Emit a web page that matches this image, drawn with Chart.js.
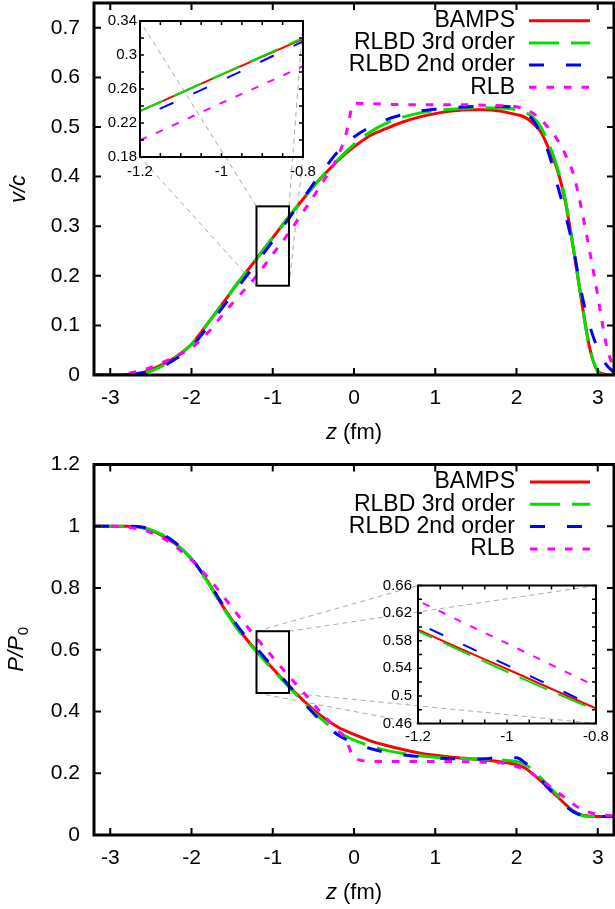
<!DOCTYPE html>
<html>
<head>
<meta charset="utf-8">
<script src="https://cdn.jsdelivr.net/npm/chart.js@4.4.1/dist/chart.umd.min.js"></script>
<style>
body { margin: 0; background: #fff; }
#wrap { position: relative; width: 615px; height: 909px; background: #fff; }
canvas { position: absolute; }
</style>
</head>
<body>
<div id="wrap">
  <canvas id="vMain" width="615" height="455" style="left:0;top:0"></canvas>
  <canvas id="vZoom" width="230" height="180" style="left:95px;top:8px"></canvas>
  <canvas id="pMain" width="615" height="454" style="left:0;top:455px"></canvas>
  <canvas id="pZoom" width="247" height="180" style="left:368px;top:572px"></canvas>
</div>
<script>
// z grid (fm) shared by all curves
const z = [-3.2, -3.0, -2.8, -2.6, -2.4, -2.2, -2.0, -1.8, -1.6, -1.4, -1.2, -1.0, -0.8, -0.6, -0.4, -0.2, -0.1, 0,
  0.2, 0.4, 0.6, 0.8, 1.0, 1.2, 1.4, 1.6, 1.8, 2.0, 2.1, 2.2, 2.3, 2.4, 2.5, 2.6, 2.7, 2.8, 2.9, 3.0, 3.1, 3.2];

const seriesNames = ['BAMPS', 'RLBD 3rd order', 'RLBD 2nd order', 'RLB'];

// v/c
const vBamps = [0, 0, 0.001, 0.005, 0.018, 0.036, 0.062, 0.104, 0.148, 0.192, 0.234, 0.277, 0.319, 0.36, 0.398, 0.432, 0.447, 0.46,
  0.483, 0.497, 0.51, 0.52, 0.527, 0.532, 0.535, 0.535, 0.532, 0.525, 0.52, 0.508, 0.49, 0.455, 0.415, 0.35, 0.255, 0.15, 0.055, 0.008, 0.001, 0];
const vRlbd3 = [0, 0, 0, 0.003, 0.015, 0.035, 0.062, 0.104, 0.148, 0.192, 0.234, 0.277, 0.32, 0.36, 0.399, 0.434, 0.45, 0.465,
  0.49, 0.508, 0.52, 0.528, 0.533, 0.536, 0.538, 0.539, 0.538, 0.535, 0.53, 0.52, 0.5, 0.465, 0.42, 0.355, 0.255, 0.15, 0.055, 0.008, 0, 0];
const vRlbd2 = [0, 0, 0.001, 0.004, 0.013, 0.032, 0.057, 0.097, 0.14, 0.183, 0.226, 0.27, 0.316, 0.362, 0.408, 0.45, 0.466, 0.48,
  0.5, 0.515, 0.525, 0.532, 0.536, 0.539, 0.541, 0.542, 0.542, 0.538, 0.528, 0.515, 0.485, 0.445, 0.385, 0.325, 0.255, 0.165, 0.1, 0.053, 0.022, 0.005];
const vRlb = [0, 0, 0.003, 0.01, 0.022, 0.037, 0.055, 0.085, 0.125, 0.162, 0.2, 0.2435, 0.287, 0.335, 0.385, 0.44, 0.485, 0.548,
  0.547, 0.546, 0.545, 0.545, 0.545, 0.545, 0.545, 0.544, 0.543, 0.541, 0.537, 0.528, 0.515, 0.497, 0.475, 0.445, 0.405, 0.335, 0.25, 0.16, 0.065, 0.01];

// P/P0
const pBamps = [1, 1, 1, 0.995, 0.975, 0.943, 0.895, 0.822, 0.735, 0.66, 0.596, 0.539, 0.482, 0.43, 0.385, 0.35, 0.337, 0.326,
  0.305, 0.29, 0.277, 0.266, 0.258, 0.252, 0.248, 0.243, 0.237, 0.228, 0.218, 0.198, 0.175, 0.15, 0.125, 0.1, 0.078, 0.065, 0.061, 0.06, 0.06, 0.06];
const pRlbd3 = [1, 1, 1, 0.996, 0.978, 0.945, 0.893, 0.818, 0.732, 0.655, 0.594, 0.535, 0.479, 0.425, 0.375, 0.335, 0.32, 0.307,
  0.289, 0.274, 0.264, 0.257, 0.252, 0.249, 0.247, 0.245, 0.243, 0.238, 0.23, 0.21, 0.185, 0.158, 0.13, 0.1, 0.076, 0.064, 0.06, 0.06, 0.06, 0.06];
const pRlbd2 = [1, 1, 1, 0.997, 0.98, 0.947, 0.895, 0.822, 0.74, 0.665, 0.605, 0.5445, 0.484, 0.423, 0.368, 0.325, 0.31, 0.298,
  0.28, 0.267, 0.259, 0.254, 0.25, 0.247, 0.246, 0.247, 0.251, 0.25, 0.235, 0.21, 0.18, 0.15, 0.12, 0.095, 0.075, 0.064, 0.061, 0.06, 0.06, 0.06];
const pRlb = [1, 1, 0.997, 0.988, 0.968, 0.935, 0.89, 0.835, 0.77, 0.703, 0.638, 0.576, 0.514, 0.455, 0.395, 0.34, 0.31, 0.25,
  0.239, 0.238, 0.238, 0.238, 0.238, 0.238, 0.237, 0.236, 0.234, 0.222, 0.212, 0.197, 0.178, 0.16, 0.14, 0.12, 0.1, 0.083, 0.073, 0.067, 0.064, 0.062];

// ticks
const zTicks = [-3, -2, -1, 0, 1, 2, 3];
const vTicks = [0, 0.1, 0.2, 0.3, 0.4, 0.5, 0.6, 0.7];
const pTicks = [0, 0.2, 0.4, 0.6, 0.8, 1, 1.2];
const zoomZTicks = [-1.2, -1.15, -1.1, -1.05, -1, -0.95, -0.9, -0.85, -0.8];
const zoomZLabels = [-1.2, -1, -0.8];
const vZoomTicks = [0.18, 0.2, 0.22, 0.24, 0.26, 0.28, 0.3, 0.32, 0.34];
const vZoomLabels = [0.18, 0.22, 0.26, 0.3, 0.34];
const pZoomTicks = [0.46, 0.48, 0.5, 0.52, 0.54, 0.56, 0.58, 0.6, 0.62, 0.64, 0.66];
const pZoomLabels = [0.46, 0.5, 0.54, 0.58, 0.62, 0.66];

const colors = ['#ff0000', '#00e000', '#0000ff', '#ff00ff'];
const dashes = [[], [30, 12], [15, 22], [7.5, 10]];
const FONT = '"Liberation Sans", Arial, Helvetica, sans-serif';

Chart.defaults.font.family = FONT;
Chart.defaults.color = '#000';

function makeDatasets(series, width) {
  return series.map((vals, i) => ({
    label: seriesNames[i],
    data: z.map((x, j) => ({ x: x, y: vals[j] })),
    borderColor: colors[i],
    borderWidth: width,
    borderDash: dashes[i],
    pointRadius: 0,
    fill: false,
    cubicInterpolationMode: 'monotone',
    order: 3 - i
  }));
}

function near(list, v) {
  return list.some(t => Math.abs(t - v) < 1e-9);
}

// no extra room for the end labels: the chart area is set by the paddings below
function noPad(s) {
  s.paddingTop = 0; s.paddingBottom = 0; s.paddingLeft = 0; s.paddingRight = 0;
}

// frame with inward ticks on all four sides
const framePlugin = {
  id: 'frame',
  afterDatasetsDraw(chart, args, o) {
    const { ctx, chartArea: a } = chart;
    const x = chart.scales.x, y = chart.scales.y;
    ctx.save();
    ctx.strokeStyle = '#000';
    ctx.setLineDash([]);
    ctx.lineWidth = o.tickWidth;
    ctx.beginPath();
    x.ticks.forEach(t => {
      const px = x.getPixelForValue(t.value);
      ctx.moveTo(px, a.bottom); ctx.lineTo(px, a.bottom - o.len);
      ctx.moveTo(px, a.top); ctx.lineTo(px, a.top + o.len);
    });
    y.ticks.forEach(t => {
      const py = y.getPixelForValue(t.value);
      ctx.moveTo(a.left, py); ctx.lineTo(a.left + o.len, py);
      ctx.moveTo(a.right, py); ctx.lineTo(a.right - o.len, py);
    });
    ctx.stroke();
    ctx.lineWidth = o.width;
    ctx.strokeRect(a.left, a.top, a.right - a.left, a.bottom - a.top);
    ctx.restore();
  }
};

// key: text on the left, line sample on the right
const keyPlugin = {
  id: 'key',
  afterDatasetsDraw(chart, args, o) {
    const { ctx, chartArea: a } = chart;
    ctx.save();
    ctx.font = '23px ' + FONT;
    ctx.textAlign = 'right';
    ctx.textBaseline = 'middle';
    ctx.fillStyle = '#000';
    chart.data.datasets.forEach((ds, i) => {
      const yy = a.top + o.top + o.step * i;
      ctx.fillText(ds.label, o.textRight, yy);
      ctx.strokeStyle = ds.borderColor;
      ctx.lineWidth = 3;
      ctx.setLineDash(ds.borderDash);
      ctx.beginPath();
      ctx.moveTo(o.x0, yy);
      ctx.lineTo(o.x1, yy);
      ctx.stroke();
    });
    ctx.restore();
  }
};

function zTitle(ctx, a, cy) {
  const it = 'italic 22px ' + FONT, rm = '22px ' + FONT;
  ctx.textBaseline = 'middle';
  ctx.textAlign = 'left';
  ctx.font = it; const w1 = ctx.measureText('z').width;
  ctx.font = rm; const w2 = ctx.measureText(' (fm)').width;
  const x0 = (a.left + a.right) / 2 - (w1 + w2) / 2;
  ctx.font = it; ctx.fillText('z', x0, cy);
  ctx.font = rm; ctx.fillText(' (fm)', x0 + w1, cy);
}

function titlesPlugin(drawY) {
  return {
    id: 'titles',
    afterDraw(chart) {
      const ctx = chart.ctx, a = chart.chartArea;
      ctx.save();
      ctx.fillStyle = '#000';
      zTitle(ctx, a, a.bottom + 58);
      ctx.translate(19, (a.top + a.bottom) / 2);
      ctx.rotate(-Math.PI / 2);
      drawY(ctx);
      ctx.restore();
    }
  };
}

// zoom box in the main panel and dashed connectors to the inset corners
function zoomPlugin(inset, dx, dy, box) {
  return {
    id: 'zoomBox',
    beforeDatasetsDraw(chart) {
      const ctx = chart.ctx, x = chart.scales.x, y = chart.scales.y, ia = inset.chartArea;
      const l = x.getPixelForValue(box[0]), r = x.getPixelForValue(box[1]);
      const b = y.getPixelForValue(box[2]), t = y.getPixelForValue(box[3]);
      ctx.save();
      ctx.strokeStyle = '#aaaaaa';
      ctx.lineWidth = 1;
      ctx.setLineDash([5, 4]);
      ctx.beginPath();
      [[l, t, ia.left, ia.top], [r, t, ia.right, ia.top], [l, b, ia.left, ia.bottom], [r, b, ia.right, ia.bottom]]
        .forEach(c => { ctx.moveTo(c[0], c[1]); ctx.lineTo(c[2] + dx, c[3] + dy); });
      ctx.stroke();
      ctx.restore();
    },
    afterDatasetsDraw(chart) {
      const ctx = chart.ctx, x = chart.scales.x, y = chart.scales.y;
      const l = x.getPixelForValue(box[0]), r = x.getPixelForValue(box[1]);
      const b = y.getPixelForValue(box[2]), t = y.getPixelForValue(box[3]);
      ctx.save();
      ctx.strokeStyle = '#000';
      ctx.lineWidth = 2;
      ctx.setLineDash([]);
      ctx.strokeRect(l, t, r - l, b - t);
      ctx.restore();
    }
  };
}

function baseOptions(o) {
  return {
    responsive: false,
    animation: false,
    events: [],
    layout: { padding: { top: o.top, right: o.right, left: 0, bottom: 0 } },
    plugins: {
      legend: { display: false },
      tooltip: { enabled: false },
      frame: { len: o.tickLen, width: o.frameWidth, tickWidth: o.tickWidth },
      key: o.key || false
    },
    scales: {
      x: {
        type: 'linear', min: o.xMin, max: o.xMax,
        grid: { display: false, drawTicks: false }, border: { display: false },
        afterBuildTicks: s => { s.ticks = o.xTicks.map(v => ({ value: v })); },
        afterFit: s => { s.height = o.xHeight; noPad(s); },
        ticks: {
          autoSkip: false, maxRotation: 0, padding: o.xPad,
          font: { size: o.fontSize },
          callback: v => near(o.xLabels, v) ? String(Math.round(v * 10) / 10) : ''
        }
      },
      y: {
        type: 'linear', min: o.yMin, max: o.yMax,
        grid: { display: false, drawTicks: false }, border: { display: false },
        afterBuildTicks: s => { s.ticks = o.yTicks.map(v => ({ value: v })); },
        afterFit: s => { s.width = o.yWidth; noPad(s); },
        ticks: {
          autoSkip: false, padding: o.yPad,
          font: { size: o.fontSize },
          callback: v => near(o.yLabels, v) ? String(Math.round(v * 100) / 100) : ''
        }
      }
    }
  };
}

// ---- insets first, so the main panels can read their frames ----
const vZoom = new Chart(document.getElementById('vZoom'), {
  type: 'line',
  data: { datasets: makeDatasets([vBamps, vRlbd3, vRlbd2, vRlb], 2) },
  options: baseOptions({
    top: 13, right: 22, xHeight: 31, yWidth: 45, xPad: 6, yPad: 3, fontSize: 15,
    xMin: -1.2, xMax: -0.8, yMin: 0.18, yMax: 0.34,
    xTicks: zoomZTicks, xLabels: zoomZLabels, yTicks: vZoomTicks, yLabels: vZoomLabels,
    tickLen: 4, frameWidth: 2, tickWidth: 1.5
  }),
  plugins: [framePlugin]
});

const pZoom = new Chart(document.getElementById('pZoom'), {
  type: 'line',
  data: { datasets: makeDatasets([pBamps, pRlbd3, pRlbd2, pRlb], 2) },
  options: baseOptions({
    top: 13.5, right: 19, xHeight: 28.5, yWidth: 50, xPad: 4.5, yPad: 6, fontSize: 15,
    xMin: -1.2, xMax: -0.8, yMin: 0.46, yMax: 0.66,
    xTicks: zoomZTicks, xLabels: zoomZLabels, yTicks: pZoomTicks, yLabels: pZoomLabels,
    tickLen: 4, frameWidth: 2, tickWidth: 1.5
  }),
  plugins: [framePlugin]
});

// ---- main panels ----
new Chart(document.getElementById('vMain'), {
  type: 'line',
  data: { datasets: makeDatasets([vBamps, vRlbd3, vRlbd2, vRlb], 3) },
  options: baseOptions({
    top: 3, right: 1, xHeight: 80, yWidth: 94, xPad: 10.4, yPad: 14, fontSize: 21,
    xMin: -3.2, xMax: 3.2, yMin: 0, yMax: 0.75,
    xTicks: zTicks, xLabels: zTicks, yTicks: vTicks, yLabels: vTicks,
    tickLen: 7, frameWidth: 3, tickWidth: 2,
    key: { top: 17.7, step: 22.2, textRight: 515, x0: 529, x1: 590 }
  }),
  plugins: [framePlugin, keyPlugin, zoomPlugin(vZoom, 95, 8, [-1.2, -0.8, 0.18, 0.34]),
    titlesPlugin(ctx => {
      ctx.font = 'italic 22px ' + FONT;
      ctx.textAlign = 'center';
      ctx.textBaseline = 'middle';
      ctx.fillText('v/c', 0, 0);
    })]
});

new Chart(document.getElementById('pMain'), {
  type: 'line',
  data: { datasets: makeDatasets([pBamps, pRlbd3, pRlbd2, pRlb], 3) },
  options: baseOptions({
    top: 9.5, right: 1, xHeight: 74, yWidth: 94, xPad: 10.4, yPad: 14, fontSize: 21,
    xMin: -3.2, xMax: 3.2, yMin: 0, yMax: 1.2,
    xTicks: zTicks, xLabels: zTicks, yTicks: pTicks, yLabels: pTicks,
    tickLen: 7, frameWidth: 3, tickWidth: 2,
    key: { top: 17.5, step: 22.3, textRight: 515, x0: 530, x1: 590 }
  }),
  plugins: [framePlugin, keyPlugin, zoomPlugin(pZoom, 368, 117, [-1.2, -0.8, 0.46, 0.66]),
    titlesPlugin(ctx => {
      const it = 'italic 22px ' + FONT, sub = '15px ' + FONT;
      ctx.textBaseline = 'middle';
      ctx.textAlign = 'left';
      ctx.font = it; const w1 = ctx.measureText('P/P').width;
      ctx.font = sub; const w2 = ctx.measureText('0').width;
      const x0 = -(w1 + w2) / 2;
      ctx.font = it; ctx.fillText('P/P', x0, -2);
      ctx.font = sub; ctx.fillText('0', x0 + w1 + 1, 5);
    })]
});
</script>
</body>
</html>
